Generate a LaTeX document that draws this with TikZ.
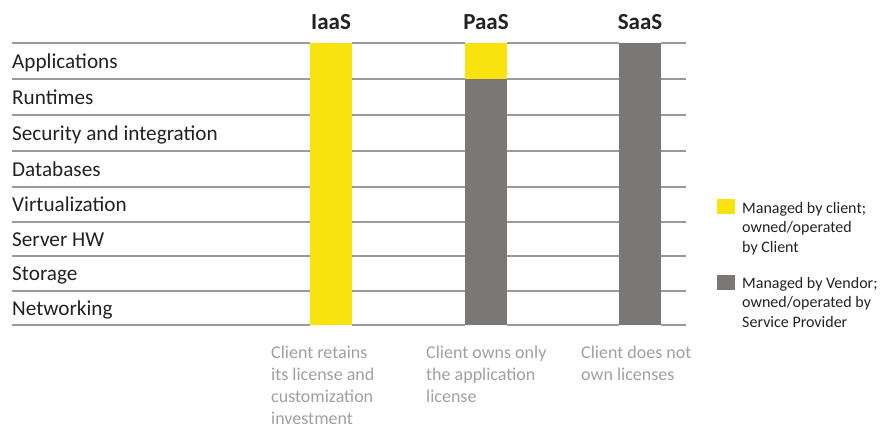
\documentclass[tikz,border=0pt]{standalone}
\usepackage{fontspec}
\setmainfont{Carlito}
\definecolor{yel}{HTML}{F9E30F}
\definecolor{gbar}{HTML}{797876}
\definecolor{rule}{HTML}{9A9A9A}
\definecolor{txt}{HTML}{222222}
\definecolor{cap}{HTML}{A0A0A0}
\begin{document}
\begin{tikzpicture}[x=1pt,y=-1pt,
  rowlabel/.style={anchor=base west,inner sep=0pt,text=txt,font=\fontsize{21.2}{25}\selectfont},
  coltitle/.style={anchor=base,inner sep=0pt,text=txt,font=\fontsize{23}{27}\selectfont\bfseries},
  caption/.style={anchor=north west,inner sep=0pt,align=left,text=cap,font=\fontsize{18}{22}\selectfont},
  legtext/.style={anchor=north west,inner sep=0pt,align=left,text=txt,font=\fontsize{16}{19.5}\selectfont},
  hrule/.style={draw=rule,line width=1.8pt}]
\useasboundingbox (0,0) rectangle (893,427);
% bars
\fill[yel] (310,43) rectangle (352,325);
\fill[yel] (465,43) rectangle (507,79);
\fill[gbar] (465,79) rectangle (507,325);
\fill[gbar] (619,43) rectangle (661,325);
% rules
\foreach \y in {43,79,115,151,187,222,256,291,325}{
  \draw[hrule] (12,\y) -- (310,\y);
  \draw[hrule] (352,\y) -- (465,\y);
  \draw[hrule] (507,\y) -- (619,\y);
  \draw[hrule] (661,\y) -- (686,\y);
}
% titles
\node[coltitle] (tI) at (331,30) {IaaS};
\node[coltitle] (tP) at (486,30) {PaaS};
\node[coltitle] (tS) at (640,30) {SaaS};
% rows
\node[rowlabel] (r1) at (12,68.5) {Applications};
\node[rowlabel] (r2) at (12,104.5) {Runtimes};
\node[rowlabel] (r3) at (12,140.5) {Security and integration};
\node[rowlabel] (r4) at (12,176.5) {Databases};
\node[rowlabel] (r5) at (12,212) {Virtualization};
\node[rowlabel] (r6) at (12,246.5) {Server HW};
\node[rowlabel] (r7) at (12,281) {Storage};
\node[rowlabel] (r8) at (12,315) {Networking};
% captions
\node[caption] (c1) at (271,345.5) {Client retains\\its license and\\customization\\investment};
\node[caption] (c2) at (426,345.5) {Client owns only\\the application\\license};
\node[caption] (c3) at (581,345.5) {Client does not\\own licenses};
% legend
\fill[yel] (717,199) rectangle (735,214);
\node[legtext] (l1) at (742,202) {Managed by client;\\owned/operated\\by Client};
\fill[gbar] (717,275) rectangle (735,290);
\node[legtext] (l2) at (742,277) {Managed by Vendor;\\owned/operated by\\Service Provider};
\end{tikzpicture}
\end{document}
